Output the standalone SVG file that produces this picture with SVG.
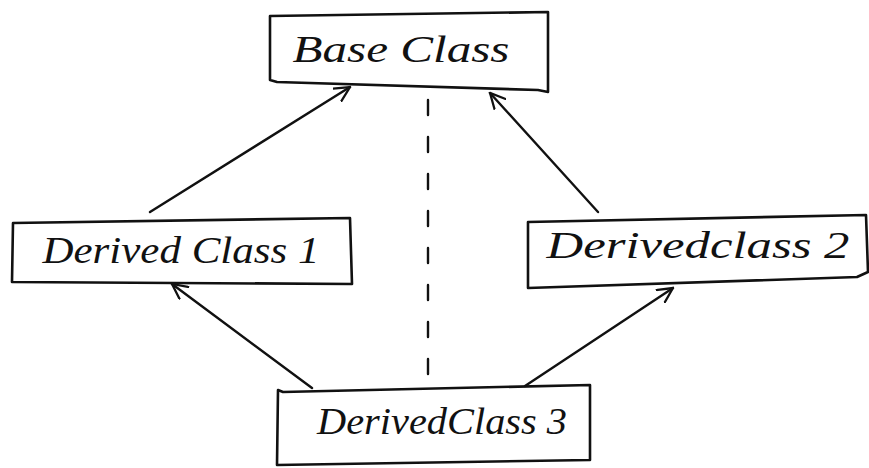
<svg xmlns="http://www.w3.org/2000/svg" width="869" height="468" viewBox="0 0 869 468">
<defs>
<style>
.box{fill:none;stroke:#111;stroke-width:2.6;stroke-linejoin:round;stroke-linecap:round}
.lbl{font-family:"Liberation Serif",serif;font-style:italic;font-size:38px;fill:#111;text-anchor:middle}
.edge{fill:none;stroke:#111;stroke-width:2.4;stroke-linecap:round}
</style>
<marker id="arr" viewBox="0 0 12 12" refX="11" refY="6" markerWidth="17" markerHeight="17" markerUnits="userSpaceOnUse" orient="auto">
<path d="M0,0.5 L11,6 L0,11.5" fill="none" stroke="#111" stroke-width="1.6"/>
</marker>
</defs>
<rect width="869" height="468" fill="#fff"/>
<g id="connectors">
<line class="edge" x1="150" y1="212" x2="350" y2="87" marker-end="url(#arr)"/>
<line class="edge" x1="598" y1="212" x2="490" y2="93" marker-end="url(#arr)"/>
<line class="edge" x1="312" y1="388" x2="172" y2="284" marker-end="url(#arr)"/>
<line class="edge" x1="525" y1="386" x2="673" y2="288" marker-end="url(#arr)"/>
<line class="edge" x1="428" y1="100" x2="428" y2="384" stroke-dasharray="15 22"/>
</g>
<g id="base-class">
<path class="box" d="M270,16 L548,12 L548,92 L538,90 L277,82 L270,80 Z"/>
<text class="lbl" x="401" y="62" textLength="217" lengthAdjust="spacingAndGlyphs">Base Class</text>
</g>
<g id="derived-class-1">
<path class="box" d="M13,223 L350,218 L352,284 L12,282 Z"/>
<text class="lbl" x="181" y="263" textLength="277" lengthAdjust="spacingAndGlyphs">Derived Class 1</text>
</g>
<g id="derived-class-2">
<path class="box" d="M528,222 L866,215 L868,272 L857,277 L528,288 Z"/>
<text class="lbl" x="698" y="258" textLength="303" lengthAdjust="spacingAndGlyphs">Derivedclass 2</text>
</g>
<g id="derived-class-3">
<path class="box" d="M283,392 L590,385 L590,460 L277,465 L278,390 Z"/>
<text class="lbl" x="442" y="434" textLength="250" lengthAdjust="spacingAndGlyphs">DerivedClass 3</text>
</g>
</svg>
